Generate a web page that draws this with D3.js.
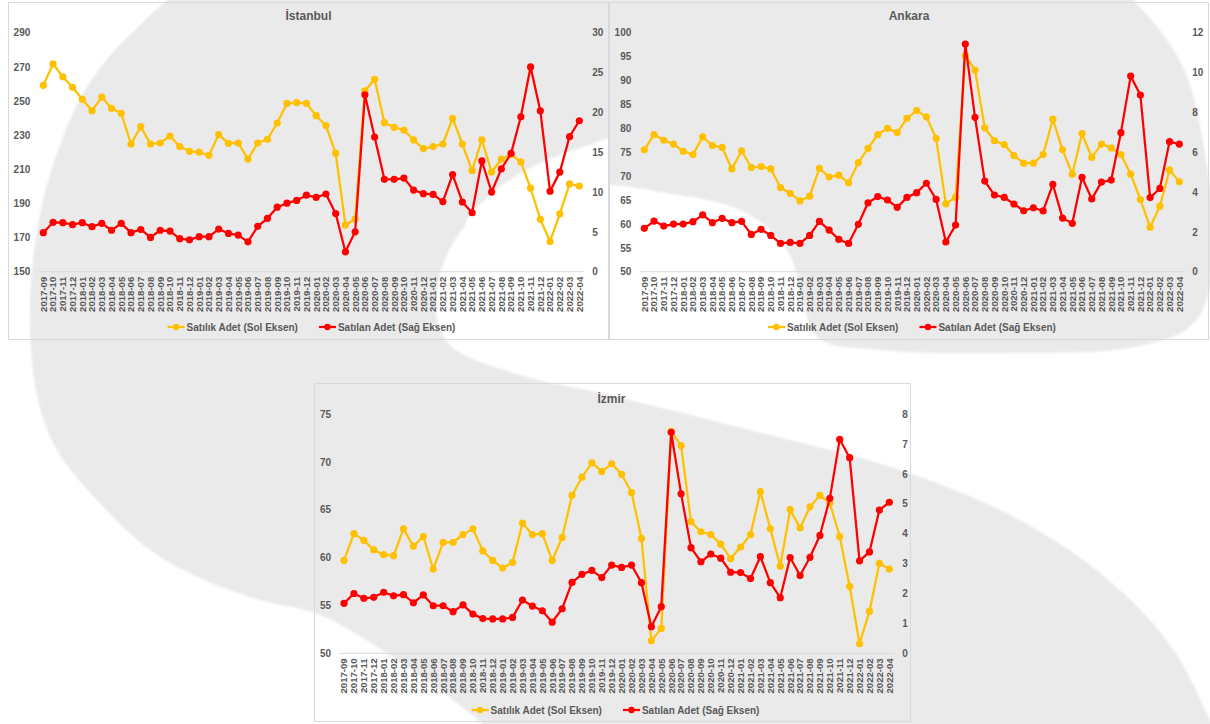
<!DOCTYPE html>
<html><head><meta charset="utf-8">
<script src="https://cdn.jsdelivr.net/npm/d3@7"></script>
<style>
body{margin:0;background:#fff}
svg{display:block}
text{font-family:"Liberation Sans",Arial,sans-serif;fill:#595959}
</style>
</head><body>
<svg id="c" width="1210" height="724"></svg>
<script>
const months = ["2017-09","2017-10","2017-11","2017-12",
"2018-01","2018-02","2018-03","2018-04","2018-05","2018-06","2018-07","2018-08","2018-09","2018-10","2018-11","2018-12",
"2019-01","2019-02","2019-03","2019-04","2019-05","2019-06","2019-07","2019-08","2019-09","2019-10","2019-11","2019-12",
"2020-01","2020-02","2020-03","2020-04","2020-05","2020-06","2020-07","2020-08","2020-09","2020-10","2020-11","2020-12",
"2021-01","2021-02","2021-03","2021-04","2021-05","2021-06","2021-07","2021-08","2021-09","2021-10","2021-11","2021-12",
"2022-01","2022-02","2022-03","2022-04"];

const istanbulSatilik = [259.2,271.7,264.2,258,
251,244.3,252.3,245.7,242.8,224.8,235,224.8,225.4,229.5,223.3,220.5,
220,218.2,230.3,225.2,225.4,215.9,225.4,227.6,237.1,248.6,249,248.6,
241.4,235.6,219.4,177.4,180.9,256,262.7,237.3,234.6,233,227.2,222.1,
223.3,224.8,239.9,224.8,209.2,227.2,208.4,215.9,218.6,214.3,198.9,180.7,
167.7,183.9,201.4,200.2];
const istanbulSatilan = [4.9,6.2,6.15,5.9,
6.15,5.65,6.07,5.2,6.07,4.9,5.3,4.3,5.2,5.1,4.15,4.0,
4.4,4.4,5.35,4.8,4.6,3.75,5.7,6.7,8.1,8.6,8.95,9.6,
9.33,9.75,7.3,2.5,5.0,22.2,16.9,11.6,11.6,11.75,10.25,9.8,
9.7,8.8,12.2,8.75,7.4,13.9,10.0,12.9,14.85,19.45,25.7,20.2,
10.1,12.5,16.95,18.95];

const ankaraSatilik = [75.5,78.7,77.5,76.7,
75.2,74.5,78.2,76.4,76.0,71.5,75.3,71.8,72.0,71.5,67.6,66.4,
64.8,65.8,71.6,69.8,70.2,68.6,72.8,75.8,78.7,80.0,79.1,82.1,
83.7,82.4,77.9,64.2,65.6,95.2,92.2,80.1,77.4,76.6,74.3,72.7,
72.7,74.5,81.9,75.5,70.4,78.9,73.9,76.7,75.9,74.5,70.4,65.1,
59.3,63.7,71.3,68.8];
const ankaraSatilan = [2.18,2.54,2.29,2.39,
2.39,2.51,2.85,2.46,2.68,2.46,2.53,1.87,2.13,1.82,1.42,1.47,
1.42,1.82,2.53,2.09,1.62,1.42,2.38,3.46,3.77,3.6,3.23,3.73,
3.97,4.44,3.63,1.49,2.34,11.43,7.75,4.55,3.85,3.73,3.4,3.06,
3.21,3.05,4.38,2.69,2.43,4.74,3.65,4.5,4.6,6.98,9.82,8.87,
3.72,4.18,6.53,6.41];

const izmirSatilik = [59.7,62.5,61.8,60.8,
60.3,60.2,63.0,61.2,62.2,58.8,61.6,61.6,62.4,63.0,60.7,59.7,
58.9,59.5,63.6,62.4,62.5,59.7,62.1,66.5,68.4,69.9,69.0,69.8,
68.7,66.8,62.0,51.3,52.6,73.2,71.7,63.75,62.7,62.4,61.4,59.9,
61.1,62.4,66.9,63.0,59.1,65.0,63.1,65.3,66.5,65.7,62.2,57.0,
51.0,54.4,59.4,58.8];
const izmirSatilan = [1.67,2.0,1.84,1.87,
2.04,1.92,1.96,1.69,1.95,1.59,1.59,1.39,1.62,1.31,1.16,1.15,
1.15,1.2,1.78,1.58,1.42,1.04,1.49,2.37,2.64,2.77,2.53,2.95,
2.87,2.95,2.36,0.89,1.56,7.39,5.33,3.53,3.06,3.32,3.18,2.71,
2.7,2.5,3.23,2.36,1.86,3.2,2.6,3.21,3.94,5.18,7.15,6.54,
3.09,3.39,4.79,5.05];

const istanbulLeftTicks = [150,170,190,210,230,250,270,290];
const istanbulRightTicks = [0,5,10,15,20,25,30];
const ankaraLeftTicks = [50,55,60,65,70,75,80,85,90,95,100];
const ankaraRightTicks = [0,2,4,6,8,10,12];
const izmirLeftTicks = [50,55,60,65,70,75];
const izmirRightTicks = [0,1,2,3,4,5,6,7,8];

const seriesNames = ["Satılık Adet (Sol Eksen)", "Satılan Adet (Sağ Eksen)"];
const seriesColors = ["#FFC000", "#FF0000"];

const panels = [
  {title:"İstanbul", left:istanbulSatilik, right:istanbulSatilan, lt:istanbulLeftTicks, rt:istanbulRightTicks,
   frame:[8,2,601,338], xr:[43.3,579.3], yr:[271.7,32.7], titleY:20, legendY:327},
  {title:"Ankara", left:ankaraSatilik, right:ankaraSatilan, lt:ankaraLeftTicks, rt:ankaraRightTicks,
   frame:[609,2,600,338], xr:[644.3,1179.3], yr:[271.7,32.7], titleY:20, legendY:327},
  {title:"İzmir", left:izmirSatilik, right:izmirSatilan, lt:izmirLeftTicks, rt:izmirRightTicks,
   frame:[314,383,597,339], xr:[344,889.3], yr:[653.3,414], titleY:403, legendY:710}
];

const svg = d3.select("#c");

// background watermark
const defs = svg.append("defs");
defs.append("filter").attr("id","soft").append("feGaussianBlur").attr("stdDeviation",1.2);
defs.append("clipPath").attr("id","istClip").append("rect").attr("x",0).attr("y",0).attr("width",609).attr("height",340);
const wm = [[215,-25],[700,-30],[1100,-25],[1133,0],[1183,67],[1207,167],[1214,260],[1195,322],[1140,346],
[1000,353],[880,350],[818,338],[803,300],[790,255],[767,227],[733,207],[667,193],[605,185],[540,192],[480,212],
[447,255],[436,310],[450,345],[520,375],[600,393],[750,430],[900,470],[1010,515],[1100,573],[1170,645],[1215,730],
[1240,780],[900,790],[540,770],[470,713],[400,662],[320,615],[260,600],[200,578],[150,550],[97,500],[57,450],
[38,400],[30,330],[33,260],[43,200],[60,145],[85,90],[130,35]];
svg.append("path").attr("d", d3.line().curve(d3.curveCatmullRomClosed.alpha(0.5))(wm))
  .attr("fill","#ebeaeb").attr("filter","url(#soft)");
// the first panel's own crop of the watermark sits slightly higher on its right side
const patch = [[466,228],[490,195],[530,168],[575,150],[625,140],[640,240]];
svg.append("g").attr("clip-path","url(#istClip)").append("path")
  .attr("d", d3.line().curve(d3.curveCatmullRomClosed.alpha(0.5))(patch))
  .attr("fill","#ffffff").attr("filter","url(#soft)");

panels.forEach(p => {
  const g = svg.append("g");
  const [fx,fy,fw,fh] = p.frame;
  g.append("rect").attr("x",fx+0.5).attr("y",fy+0.5).attr("width",fw-1).attr("height",fh-1)
    .attr("fill","none").attr("stroke","#d9d9d9").attr("stroke-width",1);

  const x = d3.scalePoint().domain(months).range(p.xr);
  const yl = d3.scaleLinear().domain(d3.extent(p.lt)).range(p.yr);
  const yr = d3.scaleLinear().domain(d3.extent(p.rt)).range(p.yr);

  g.append("text").attr("x", fx+fw/2+ (p.title==="İzmir"? -1: 0)).attr("y",p.titleY).attr("text-anchor","middle")
    .attr("font-size",12).attr("font-weight","bold").text(p.title);

  g.append("line").attr("x1",p.xr[0]-5).attr("x2",p.xr[1]+5).attr("y1",p.yr[0]).attr("y2",p.yr[0])
    .attr("stroke","#d9d9d9").attr("stroke-width",1);

  const la = g.append("g").attr("transform",`translate(${p.xr[0]-13},0)`)
    .call(d3.axisLeft(yl).tickValues(p.lt).tickSize(0).tickPadding(0).tickFormat(d3.format("d")));
  la.select(".domain").remove();
  la.selectAll("text").attr("font-size",10).attr("font-weight","bold").attr("fill","#595959")
    .attr("font-family","'Liberation Sans',Arial,sans-serif");

  const ra = g.append("g").attr("transform",`translate(${p.xr[1]+13},0)`)
    .call(d3.axisRight(yr).tickValues(p.rt).tickSize(0).tickPadding(0).tickFormat(d3.format("d")));
  ra.select(".domain").remove();
  ra.selectAll("text").attr("font-size",10).attr("font-weight","bold").attr("fill","#595959")
    .attr("font-family","'Liberation Sans',Arial,sans-serif");

  g.append("g").selectAll("text").data(months).join("text")
    .attr("transform", d => `translate(${x(d)},${p.yr[0]+5}) rotate(-90)`)
    .attr("text-anchor","end").attr("dy","0.35em")
    .attr("font-size",9.6).attr("font-weight","bold").text(d => d);

  const series = [
    {vals:p.left, y:yl, color:seriesColors[0]},
    {vals:p.right, y:yr, color:seriesColors[1]}
  ];
  series.forEach(s => {
    const line = d3.line().x((d,i)=>x(months[i])).y(d=>s.y(d));
    g.append("path").attr("d", line(s.vals)).attr("fill","none")
      .attr("stroke",s.color).attr("stroke-width",2.25).attr("stroke-linejoin","round");
    g.append("g").selectAll("circle").data(s.vals).join("circle")
      .attr("cx",(d,i)=>x(months[i])).attr("cy",d=>s.y(d)).attr("r",3.6).attr("fill",s.color);
  });

  const lg = g.append("g");
  let cx = 0;
  seriesNames.forEach((name,i) => {
    const it = lg.append("g").attr("transform",`translate(${cx},0)`);
    it.append("line").attr("x1",0).attr("x2",17).attr("y1",0).attr("y2",0)
      .attr("stroke",seriesColors[i]).attr("stroke-width",2.25);
    it.append("circle").attr("cx",8.5).attr("cy",0).attr("r",3.2).attr("fill",seriesColors[i]);
    const t = it.append("text").attr("x",19).attr("y",0).attr("dy","0.35em")
      .attr("font-size",10).attr("font-weight","bold").text(name);
    const w = 19 + t.node().getComputedTextLength();
    cx += w + 21;
  });
  const total = cx - 21;
  lg.attr("transform",`translate(${fx+fw/2 + 3 - total/2},${p.legendY})`);
});
</script>
</body></html>
